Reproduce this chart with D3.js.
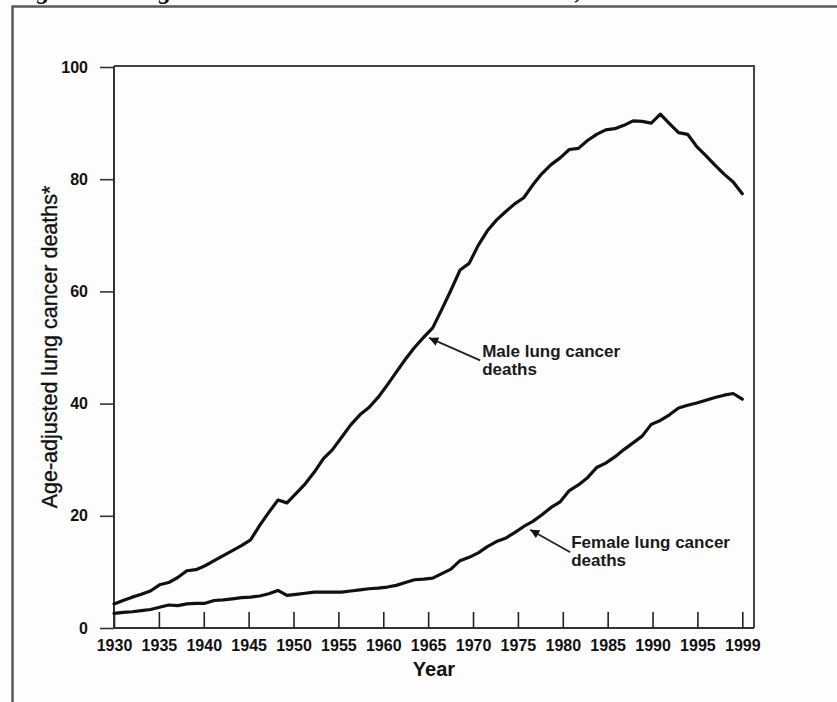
<!DOCTYPE html>
<html>
<head>
<meta charset="utf-8">
<script src="https://cdn.jsdelivr.net/npm/d3@7"></script>
<style>
  html, body { margin: 0; padding: 0; background: #fdfdfd; }
  svg { display: block; }
</style>
</head>
<body>
<svg id="chart" width="837" height="702"></svg>
<script>
// ---------- data ----------
const years = d3.range(1930, 2000);
const maleDeaths = [
  4.3, 4.9, 5.5, 6.0, 6.6, 7.7, 8.1, 9.0, 10.2, 10.4,
  11.1, 12.0, 12.9, 13.8, 14.7, 15.7, 18.3, 20.6, 22.8, 22.3,
  24.0, 25.7, 27.8, 30.2, 31.8, 34.0, 36.2, 38.0, 39.3, 41.1,
  43.3, 45.6, 47.9, 50.0, 51.8, 53.5, 56.8, 60.2, 63.8, 65.0,
  68.2, 70.8, 72.7, 74.2, 75.6, 76.7, 79.0, 81.0, 82.6, 83.8,
  85.3, 85.5, 86.9, 88.0, 88.8, 89.0, 89.6, 90.4, 90.3, 90.0,
  91.6, 89.9, 88.3, 88.0, 85.8, 84.2, 82.5, 80.9, 79.5, 77.4
];
const femaleDeaths = [
  2.6, 2.8, 2.9, 3.1, 3.3, 3.7, 4.1, 4.0, 4.3, 4.4,
  4.4, 4.9, 5.0, 5.2, 5.4, 5.5, 5.7, 6.1, 6.7, 5.8,
  6.0, 6.2, 6.4, 6.4, 6.4, 6.4, 6.6, 6.8, 7.0, 7.1,
  7.3, 7.6, 8.1, 8.6, 8.7, 8.9, 9.7, 10.5, 12.0, 12.6,
  13.4, 14.5, 15.4, 16.0, 17.0, 18.1, 19.0, 20.2, 21.5, 22.5,
  24.5, 25.5, 26.8, 28.6, 29.4, 30.5, 31.8, 33.0, 34.2, 36.3,
  37.0, 38.0, 39.2, 39.7, 40.1, 40.6, 41.1, 41.5, 41.8, 40.8
];
const xTickLabels = ["1930","1935","1940","1945","1950","1955","1960","1965","1970","1975","1980","1985","1990","1995","1999"];
const yTickValues = [0, 20, 40, 60, 80, 100];
const annotationLabels = [
  { lines: ["Male lung cancer", "deaths"], year: 1964.5, value: 51.8 },
  { lines: ["Female lung cancer", "deaths"], year: 1975.6, value: 17.6 }
];
const yAxisTitle = "Age-adjusted lung cancer deaths*";
const xAxisTitle = "Year";
const figureTitle = "Figure 1.  Lung cancer death rates in the United States, 1930–1999";

// ---------- layout ----------
const mLeft = 114, mRight = 754, mTop = 66, mBottom = 628;
const dataRight = 742.3;

const svg = d3.select("#chart");
const font = "'Liberation Sans', Arial, Helvetica, sans-serif";
const narrow = "'Liberation Sans Narrow', 'Arial Narrow', 'Liberation Sans', Arial, sans-serif";

const x = d3.scaleLinear().domain([1930, 1999]).range([mLeft, dataRight]);
const xTicks = d3.scalePoint().domain(xTickLabels).range([mLeft, dataRight]);
const y = d3.scaleLinear().domain([0, 100]).range([mBottom, mTop + 1]);

// outer frame (partially cropped figure; title cut off at the top as in the source)
svg.append("text")
  .attr("x", 14).attr("y", -1)
  .attr("font-family", "'Liberation Serif', 'Times New Roman', serif")
  .attr("font-style", "italic").attr("font-weight", "bold")
  .attr("font-size", 25).attr("fill", "#111")
  .text(figureTitle);
svg.append("path")
  .attr("d", `M12.5,702 V6.5 H837`)
  .attr("fill", "none").attr("stroke", "#5a5a5a").attr("stroke-width", 2.5);

// plot frame
svg.append("path")
  .attr("d", `M${mLeft},${mTop} H${mRight} V${mBottom}`)
  .attr("fill", "none").attr("stroke", "#444").attr("stroke-width", 2);

// x axis (ticks pointing inward)
const xAxis = d3.axisBottom(xTicks).tickSizeInner(-16).tickSizeOuter(0).tickPadding(22);
const gx = svg.append("g").attr("transform", `translate(0,${mBottom})`).call(xAxis);
gx.select(".domain").attr("d", `M${mLeft},0H${mRight}`).attr("stroke", "#333").attr("stroke-width", 2);
gx.selectAll(".tick line").attr("stroke", "#222").attr("stroke-width", 1.6);
gx.selectAll(".tick text")
  .attr("font-family", narrow).attr("font-weight", "bold").attr("font-size", 16)
  .attr("fill", "#111").attr("dy", "0").attr("y", 23);

// y axis (ticks pointing outward)
const yAxis = d3.axisLeft(y).tickValues(yTickValues).tickSizeInner(14).tickSizeOuter(0).tickPadding(12);
const gy = svg.append("g").attr("transform", `translate(${mLeft},0)`).call(yAxis);
gy.select(".domain").attr("d", `M0,${mTop}V${mBottom}`).attr("stroke", "#333").attr("stroke-width", 2);
gy.selectAll(".tick line").attr("stroke", "#333").attr("stroke-width", 1.6);
gy.selectAll(".tick text")
  .attr("font-family", narrow).attr("font-weight", "bold").attr("font-size", 16)
  .attr("fill", "#111");

// axis titles
svg.append("text")
  .attr("transform", `translate(57,${(mTop + mBottom) / 2}) rotate(-90)`)
  .attr("text-anchor", "middle")
  .attr("font-family", font).attr("font-size", 21.5).attr("fill", "#111")
  .attr("stroke", "#111").attr("stroke-width", 0.35)
  .text(yAxisTitle);
svg.append("text")
  .attr("x", (mLeft + mRight) / 2).attr("y", 676)
  .attr("text-anchor", "middle")
  .attr("font-family", narrow).attr("font-weight", "bold").attr("font-size", 20).attr("fill", "#111")
  .text(xAxisTitle);

// lines
const line = d3.line().x((d, i) => x(years[i])).y(d => y(d)).curve(d3.curveLinear);
[maleDeaths, femaleDeaths].forEach(series => {
  svg.append("path")
    .datum(series)
    .attr("d", line)
    .attr("fill", "none").attr("stroke", "#111").attr("stroke-width", 3.2)
    .attr("stroke-linejoin", "round").attr("stroke-linecap", "round");
});

// arrow marker
svg.append("defs").append("marker")
  .attr("id", "arrow").attr("viewBox", "0 0 10 10")
  .attr("refX", 10).attr("refY", 5)
  .attr("markerWidth", 11).attr("markerHeight", 9)
  .attr("markerUnits", "userSpaceOnUse")
  .attr("orient", "auto")
  .append("path").attr("d", "M0,0 L10,5 L0,10 Z").attr("fill", "#111");

const offsets = [{ tx: 52, ty: 23, lx: 54, ly: 20 }, { tx: 41, ty: 23, lx: 42, ly: 19 }];
annotationLabels.forEach((a, i) => {
  const px = x(a.year), py = y(a.value);
  const o = offsets[i];
  svg.append("line")
    .attr("x1", px + o.tx).attr("y1", py + o.ty)
    .attr("x2", px + 1).attr("y2", py + 0.5)
    .attr("stroke", "#222").attr("stroke-width", 1.8)
    .attr("marker-end", "url(#arrow)");
  const t = svg.append("text")
    .attr("font-family", font).attr("font-weight", "bold").attr("font-size", 17).attr("fill", "#1a1a1a");
  a.lines.forEach((ln, j) => {
    t.append("tspan").attr("x", px + o.lx).attr("y", py + o.ly + j * 18).text(ln);
  });
});
</script>
</body>
</html>
